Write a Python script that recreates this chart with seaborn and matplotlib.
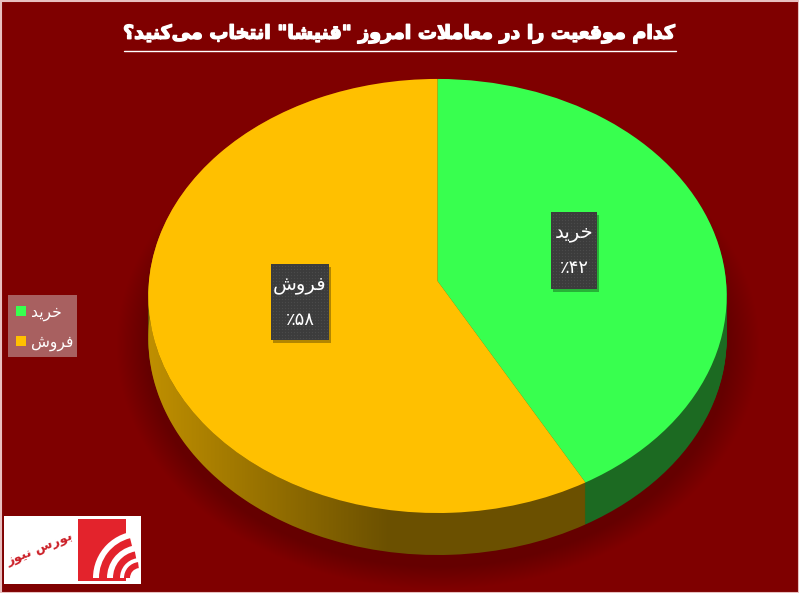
import numpy as np
import seaborn as sns
import matplotlib.pyplot as plt
import matplotlib.patheffects as pe
from matplotlib.path import Path
from matplotlib.patches import PathPatch, Rectangle, Wedge
from matplotlib.transforms import Transform

# slices, clockwise from twelve o'clock
labels = ['خرید', 'فروش']
values = [42, 58]
value_labels = ['٪۴۲', '٪۵۸']
colors = ['#38ff4f', '#ffc000']
side_colors = ['#1c6a22', '#6b5000']
title = 'کدام موقعیت را در معاملات امروز "قنیشا" انتخاب می‌کنید؟'
logo_text = 'بورس نیوز'

# isolated, final, initial, medial. two forms = letter does not join forward
FORMS = {
    'ا': 'ﺍﺎ', 'د': 'ﺩﺪ', 'ر': 'ﺭﺮ', 'ز': 'ﺯﺰ', 'و': 'ﻭﻮ',
    'ب': 'ﺏﺐﺑﺒ', 'ت': 'ﺕﺖﺗﺘ', 'خ': 'ﺥﺦﺧﺨ', 'س': 'ﺱﺲﺳﺴ', 'ش': 'ﺵﺶﺷﺸ',
    'ع': 'ﻉﻊﻋﻌ', 'ف': 'ﻑﻒﻓﻔ', 'ق': 'ﻕﻖﻗﻘ', 'ک': 'ﮎﮏﮐﮑ', 'ل': 'ﻝﻞﻟﻠ',
    'م': 'ﻡﻢﻣﻤ', 'ن': 'ﻥﻦﻧﻨ', 'ی': 'ﯼﯽﯾﯿ',
}


# matplotlib does no arabic shaping, so pick the forms by hand and reverse
def shape(text):
    text = text.replace('لا', '\ufefb')
    out = []
    for i, ch in enumerate(text):
        if ch not in FORMS:
            out.append(ch)
            continue
        prev = text[i - 1] if i > 0 else ''
        nxt = text[i + 1] if i + 1 < len(text) else ''
        joins_prev = prev in FORMS and len(FORMS[prev]) == 4
        joins_next = (nxt in FORMS or nxt == '\ufefb') and len(FORMS[ch]) == 4
        forms = FORMS[ch]
        if joins_prev and joins_next:
            out.append(forms[3])
        elif joins_next:
            out.append(forms[2])
        elif joins_prev:
            out.append(forms[1])
        else:
            out.append(forms[0])
    # lam-alef after a joining letter
    for i, ch in enumerate(out):
        if ch == '\ufefb' and i > 0 and out[i - 1] in 'ﻋﻌﻣﻤﺑﺒﺗﺘ':
            out[i] = '\ufefc'
    return ''.join(out).replace('\u200c', '')[::-1]


class Perspective(Transform):
    # unit pie -> pixels, the far edge shrinks a little
    input_dims = output_dims = 2
    has_inverse = False

    def __init__(self, dy=0):
        super().__init__()
        self.dy = dy

    def transform_non_affine(self, xy):
        xy = np.asarray(xy, dtype=float)
        s = 1 / (1 + 0.069 * xy[:, 1])
        return np.column_stack([437.5 + 288.5 * xy[:, 0] * s,
                                281 + self.dy - 216 * xy[:, 1] * s])


sns.set_theme(style='white')
plt.rcParams['font.family'] = ['DejaVu Sans']
BG = '#7f0000'

fig = plt.figure(figsize=(7.99, 5.93), dpi=100, facecolor=BG)
ax = fig.add_axes([0, 0, 1, 1])
ax.set_facecolor(BG)


def draw_pie(cols, dy, z):
    wedges, _ = ax.pie(values, colors=cols, startangle=90, counterclock=False,
                       radius=1, frame=True)
    for w in wedges:
        w.set_transform(Perspective(dy) + ax.transData)
        w.set_zorder(z)
        w.set_linewidth(0)


draw_pie(colors, 0, 10)

# walls, stacked a pixel at a time
DEPTH = 42
for d in range(DEPTH, 0, -1):
    draw_pie(side_colors, d, 5)

ax.set_aspect('auto')
ax.set_xlim(0, 799)
ax.set_ylim(593, 0)
ax.axis('off')

t = np.linspace(0, 2 * np.pi, 300)
circle = np.column_stack([np.cos(t), np.sin(t)])
rim = Perspective(0).transform(circle)

# soft shadow under the pie, mostly below it
yy, xx = np.mgrid[0:593, 0:799]
dist = np.hypot((xx - 437.5) / 298, (yy - 345) / 226)
shadow = np.clip((1.08 - dist) / 0.1, 0, 1) * 0.2
ax.imshow(np.dstack([np.zeros_like(shadow)] * 3 + [shadow]), extent=(0, 799, 593, 0),
          aspect='auto', zorder=2, interpolation='bilinear')

# wall of the big slice gets lighter towards the left
hull = np.vstack([rim, rim[::-1] + [0, DEPTH]])
hull_patch = PathPatch(Path(hull), transform=ax.transData, fc='none', ec='none')
ax.add_patch(hull_patch)
glow = np.zeros((1, 799, 4))
glow[..., 0] = 1
glow[..., 1] = 0.75
glow[..., 3] = np.interp(np.arange(799), [150, 390], [0.57, 0.0])
im = ax.imshow(glow, extent=(0, 799, 593, 0), aspect='auto', zorder=6)
im.set_clip_path(hull_patch)

# title
ax.text(400, 34, shape(title), color='white', fontsize=13.7, fontweight='bold',
        ha='center', va='center', zorder=20,
        path_effects=[pe.withStroke(linewidth=1.0, foreground='white')])
ax.plot([124, 676], [51, 51], color='white', lw=1, zorder=20)

# data labels
for x, y, w, h, name, val in [(551, 212, 46, 77, labels[0], value_labels[0]),
                              (271, 264, 58, 76, labels[1], value_labels[1])]:
    ax.add_patch(Rectangle((x + 2, y + 3), w, h, fc='black', alpha=0.3, lw=0, zorder=14))
    ax.add_patch(Rectangle((x, y), w, h, fc='#3c3c3c', lw=0, zorder=15))
    px, py = np.meshgrid(np.arange(x + 2, x + w, 3), np.arange(y + 2, y + h, 3))
    ax.scatter(px.ravel(), py.ravel(), s=1, c='#4a4a4a', lw=0, zorder=16)
    ax.text(x + w / 2, y + 20, shape(name), color='white', fontsize=14,
            ha='center', va='center', zorder=17)
    ax.text(x + w / 2, y + 56, val, color='white', fontsize=13,
            ha='center', va='center', zorder=17)

# legend
ax.add_patch(Rectangle((8, 295), 69, 62, fc='#a86060', lw=0, zorder=15))
for y, c, name in zip([311, 341], colors, labels):
    ax.add_patch(Rectangle((16, y - 5), 10, 10, fc=c, lw=0, zorder=16))
    ax.text(31, y + 2.5, shape(name), color='white', fontsize=11.2,
            ha='left', va='center', zorder=16)

# logo
RED = '#e3232c'
ax.add_patch(Rectangle((4, 516), 137, 68, fc='white', lw=0, zorder=15))
ax.add_patch(Rectangle((78, 519), 48, 62, fc=RED, lw=0, zorder=16))
ax.add_patch(Wedge((140, 578), 47, 180, 270, fc='white', lw=0, zorder=17))
ax.add_patch(Rectangle((78, 578), 48, 3, fc=RED, lw=0, zorder=17))
for r, wd, end in [(41, 8, 256), (27, 7, 259), (16, 6, 263)]:
    ax.add_patch(Wedge((140, 578), r, 180, end, width=wd, fc=RED, lw=0, zorder=18))
ax.text(40, 549, shape(logo_text), color='#cc2028', fontsize=9.5, fontweight='bold',
        rotation=22, ha='center', va='center', zorder=17)

# thin frame
ax.add_patch(Rectangle((0.5, 0.5), 798, 592, fc='none', ec='#e8c0c0', lw=1.5, zorder=30))

fig.savefig('out.png', dpi=100, facecolor=BG)
